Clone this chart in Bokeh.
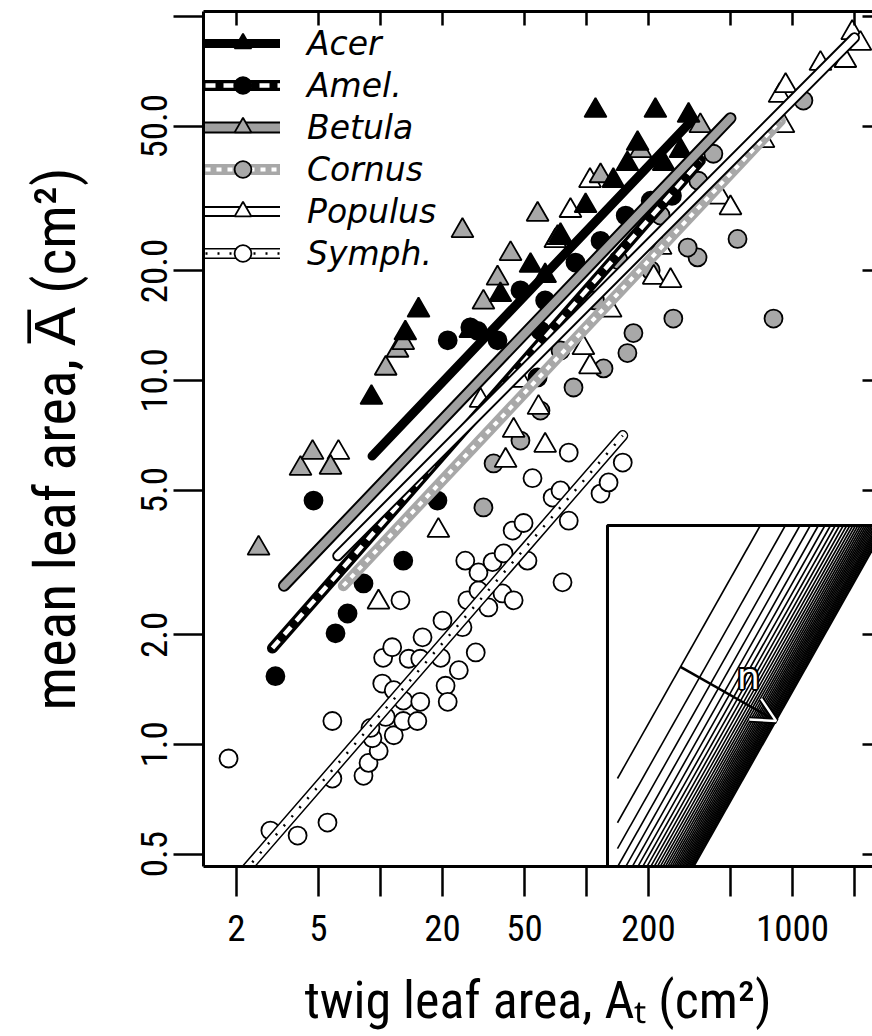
import math
from bokeh.plotting import figure
from bokeh.models import (Range1d, LogScale, LogAxis, FixedTicker, Legend, LegendItem,
                          ColumnDataSource, Arrow, OpenHead, Label)
from bokeh.embed import file_html
from bokeh.resources import INLINE

# ---------------- data ----------------
species = ["Acer", "Amel.", "Betula", "Cornus", "Populus", "Symph."]

acer_x = [9.04, 13.2, 15.3, 110.6, 216, 313, 135, 158, 177, 237, 286, 27.3, 38.2, 53.5, 74.8, 99, 63]
acer_y = [8.98, 13.5, 15.6, 55.2, 55.2, 53.5, 35.4, 39.4, 44.8, 39.4, 42.8, 13.7, 17.2, 20.7, 25.0, 30.2, 19.4]

amel_x = [3.09, 4.73, 6.05, 6.92, 8.27, 12.9, 18.9, 27.3, 21.2, 47.8, 63, 88.4, 117, 155, 205, 260, 59.8, 29.6, 37, 57.9]
amel_y = [1.54, 4.68, 2.02, 2.29, 2.77, 3.20, 4.68, 14.0, 12.9, 17.7, 16.6, 21.1, 24.2, 28.4, 31.2, 32.2, 13.7, 13.7, 12.9, 10.2]

betula_x = [2.56, 4.09, 4.68, 5.72, 10.6, 12.1, 12.9, 25.0, 31.6, 37, 42.8, 57.9, 72.4, 117, 183, 357]
betula_y = [3.46, 5.73, 6.34, 5.77, 10.8, 12.1, 12.7, 25.8, 16.4, 19.1, 22.3, 28.6, 24.7, 36.5, 42.8, 50.1]

cornus_x = [31.6, 35.4, 86.5, 121, 158, 169, 264, 809, 346, 541, 349, 413, 1130, 310, 229, 205, 143, 110, 74.8, 59.8, 47.8]
cornus_y = [4.48, 5.92, 9.57, 10.8, 11.9, 13.5, 14.8, 14.8, 21.8, 24.5, 35.4, 42.0, 58.8, 23.2, 28.4, 20.1, 21.4, 16.6, 12.1, 8.27, 6.84]

populus_x = [6.25, 9.78, 19.1, 58.5, 44.3, 83.6, 104, 70.6, 96.6, 104, 131, 212, 256, 229, 447, 500, 723, 904,
             866, 926, 1367, 1806, 1950, 2137, 63, 40.5, 47.8, 30.6]
populus_y = [6.34, 2.46, 3.87, 8.43, 7.29, 29.3, 35.4, 24.2, 12.3, 10.9, 15.6, 19.2, 18.8, 23.2, 31.9, 29.8, 45.6, 50.1,
             60.7, 64.6, 74.3, 75.7, 90.3, 84.3, 6.63, 6.03, 10.0, 8.81]

symph_x = [1.83, 2.92, 3.96, 5.53, 5.84, 5.84, 8.27, 8.75, 9.8, 9.14, 8.94, 11.6, 10.6, 12.9, 15.1, 10.2, 11.6,
           12.9, 15.6, 10.3, 11.4, 13.7, 15.6, 16.0, 19.6, 20.0, 20.7, 21.2, 24.0, 25.0, 29.0, 12.5, 26.4, 29.9,
           33.4, 39.1, 44.3, 25.8, 29.9, 35.0, 39.6, 43.8, 49.5, 51.7, 68.5, 74.8, 82, 76.5, 54.7, 82, 117, 128, 150]
symph_y = [0.915, 0.58, 0.562, 0.61, 1.16, 0.806, 0.82, 0.89, 0.96, 1.04, 1.11, 1.06, 1.19, 1.16, 1.16, 1.47, 1.41,
           1.32, 1.31, 1.73, 1.85, 1.72, 1.72, 1.97, 1.73, 2.19, 1.45, 1.31, 1.60, 2.10, 1.79, 2.49, 2.49, 2.65,
           2.38, 2.60, 2.49, 3.20, 2.97, 3.17, 3.35, 3.87, 4.06, 3.20, 4.77, 4.99, 4.12, 2.79, 5.39, 6.34, 4.89, 5.25, 5.95]

# fitted lines (end points)
fit_x0 = [9.1, 2.99, 3.4, 6.6, 6.2, 2.0]
fit_y0 = [6.2, 1.84, 2.73, 2.73, 3.3, 0.423]
fit_x1 = [320, 357, 500, 874, 2000, 150]
fit_y1 = [51.4, 40.2, 52.6, 51.8, 87.5, 7.06]

x_label_ticks = [2, 5, 20, 50, 200, 1000]
x_other_ticks = [10, 100, 500, 2000]
y_label_ticks = [0.5, 1, 2, 5, 10, 20, 50]
y_other_ticks = [100]
y_tick_labels = {0.5: "0.5", 1: "1.0", 2: "2.0", 5: "5.0", 10: "10.0", 20: "20.0", 50: "50.0"}

# inset: lines  mean area = twig area / n
inset_n = list(range(1, 34))
inset_box_u = (0.758, 1.0e4)
inset_box_v = (0.2, 52.6)
arrow_start_u = 5.74

# ---------------- styling ----------------
GRAY = "#a8a8a8"
FONT = "Roboto Condensed, Liberation Sans Narrow, Liberation Sans, sans-serif"

p = figure(width=872, height=1036, x_axis_type="log", y_axis_type="log",
           x_range=Range1d(1.383, 2446), y_range=Range1d(0.462, 103.3),
           output_backend="svg", toolbar_location=None,
           min_border_left=203, min_border_right=0, min_border_top=11, min_border_bottom=170)
p.grid.visible = False
p.outline_line_color = None
p.background_fill_color = "white"
p.border_fill_color = "white"

p.extra_x_ranges = {"ix": Range1d(1.03e-5, 1181)}
p.extra_y_ranges = {"iy": Range1d(0.252, 1.65e5)}
p.extra_x_scales = {"ix": LogScale()}
p.extra_y_scales = {"iy": LogScale()}

bottom = p.below[0]
left = p.left[0]

for ax in (bottom, left):
    ax.axis_line_width = 3
    ax.major_tick_line_width = 2.5
    ax.minor_tick_line_width = 2.5
    ax.major_tick_out = 30
    ax.major_tick_in = 0
    ax.minor_tick_out = 30
    ax.minor_tick_in = 0
    ax.minor_tick_line_color = "black"
    ax.major_label_text_font = FONT
    ax.major_label_text_font_size = "37px"
    ax.major_label_text_color = "black"
    ax.axis_label_text_font = FONT
    ax.axis_label_text_font_style = "normal"
    ax.axis_label_text_color = "black"

bottom.ticker = FixedTicker(ticks=x_label_ticks, minor_ticks=x_other_ticks)
bottom.major_label_standoff = 18
bottom.axis_label = "twig leaf area, A\u209c (cm\u00b2)"
bottom.axis_label_text_font_size = "52px"
bottom.axis_label_standoff = 26

left.ticker = FixedTicker(ticks=y_label_ticks, minor_ticks=y_other_ticks)
left.major_label_overrides = y_tick_labels
left.major_label_orientation = "vertical"
left.major_label_standoff = 6
left.axis_label = "mean leaf area, A\u0305 (cm\u00b2)"
left.axis_label_text_font_size = "58px"
left.axis_label_standoff = 50

top = LogAxis(ticker=FixedTicker(ticks=x_label_ticks + x_other_ticks), major_tick_in=14, major_tick_out=0,
              major_tick_line_width=2.5, axis_line_width=3, minor_tick_line_color=None,
              major_label_text_color=None, major_label_text_font_size="1px", major_label_standoff=0)
p.add_layout(top, "above")
right = LogAxis(ticker=FixedTicker(ticks=y_label_ticks + y_other_ticks), major_tick_in=10, major_tick_out=0,
                major_tick_line_width=2.5, axis_line_color=None, minor_tick_line_color=None,
                major_label_text_color=None, major_label_text_font_size="1px", major_label_standoff=0)
p.add_layout(right, "right")

# ---------------- points ----------------
pts = {
    "Acer": (acer_x, acer_y, "triangle", "black", 22),
    "Amel.": (amel_x, amel_y, "circle", "black", 18),
    "Betula": (betula_x, betula_y, "triangle", GRAY, 22),
    "Cornus": (cornus_x, cornus_y, "circle", GRAY, 18),
    "Populus": (populus_x, populus_y, "triangle", "white", 22),
    "Symph.": (symph_x, symph_y, "circle", "white", 18),
}
scatter_r = {}
for name in ["Symph.", "Cornus", "Populus", "Betula", "Amel.", "Acer"]:
    xs, ys, mk, fc, sz = pts[name]
    src = ColumnDataSource(dict(x=xs, y=ys))
    scatter_r[name] = p.scatter("x", "y", source=src, marker=mk, size=sz, fill_color=fc,
                                line_color="black", line_width=1.8)

# ---------------- fitted lines (cased) ----------------
line_styles = {
    "Acer": [("black", 9, None)],
    "Amel.": [("black", 11, None), ("white", 4.5, "10 8")],
    "Betula": [("black", 12, None), ("#a0a0a0", 8, None)],
    "Cornus": [(GRAY, 11, None), ("white", 4, "5 6")],
    "Populus": [("black", 11, None), ("white", 7, None)],
    "Symph.": [("black", 11, None), ("white", 8, None), ("black", 2.5, "2 10")],
}
line_r = {n: [] for n in species}
for i, name in enumerate(species):
    src = ColumnDataSource(dict(x=[fit_x0[i], fit_x1[i]], y=[fit_y0[i], fit_y1[i]]))
    for col, w, dash in line_styles[name]:
        kw = dict(line_dash=dash, line_cap="butt") if dash else dict(line_cap="round")
        r = p.line("x", "y", source=src, line_color=col, line_width=w, **kw)
        line_r[name].append(r)

# ---------------- legend ----------------
items = [LegendItem(label=n, renderers=line_r[n] + [scatter_r[n]]) for n in species]
legend = Legend(items=items, location=(2, 592), padding=0, margin=0, spacing=0,
                glyph_width=75, glyph_height=42, label_height=42, label_standoff=27,
                border_line_alpha=0, background_fill_alpha=0,
                label_text_font="DejaVu Sans", label_text_font_style="italic",
                label_text_font_size="33px", label_text_color="black")
p.add_layout(legend)

# ---------------- inset ----------------
p.quad(left=[inset_box_u[0]], right=[inset_box_u[1]], bottom=[inset_box_v[0]], top=[inset_box_v[1]],
       x_range_name="ix", y_range_name="iy", fill_color="white", line_color="black", line_width=3)
vtop = inset_box_v[1]
ixs = [[1.0, vtop * n] for n in inset_n]
iys = [[1.0 / n, vtop] for n in inset_n]
p.multi_line(ixs, iys, x_range_name="ix", y_range_name="iy", line_color="black", line_width=1.6)

# arrow perpendicular to the lines from n=1 to n=N (inset has 83 px / decade in x, 147 px / decade in y)
N = inset_n[-1]
t = math.log10(N) / (83 / 147 + 147 / 83)
xe = arrow_start_u * 10 ** (147 * t / 83)
ye = arrow_start_u * 10 ** (-83 * t / 147)
p.add_layout(Arrow(x_start=arrow_start_u, y_start=arrow_start_u, x_end=xe, y_end=ye,
                   x_range_name="ix", y_range_name="iy", line_color="black", line_width=2.5,
                   end=OpenHead(size=24, line_width=6, line_color="black")))
p.add_layout(Arrow(x_start=arrow_start_u, y_start=arrow_start_u, x_end=xe, y_end=ye,
                   x_range_name="ix", y_range_name="iy", line_alpha=0,
                   end=OpenHead(size=24, line_width=2.5, line_color="white")))
lx, ly = 37.9, 3.6
for dx, dy in [(-2, 0), (2, 0), (0, -2), (0, 2), (-1.5, -1.5), (1.5, 1.5), (-1.5, 1.5), (1.5, -1.5)]:
    p.add_layout(Label(x=lx, y=ly, x_range_name="ix", y_range_name="iy", text="n", x_offset=dx, y_offset=dy,
                       text_font="DejaVu Sans", text_font_size="36px", text_color="black",
                       text_align="center", text_baseline="bottom"))
p.add_layout(Label(x=lx, y=ly, x_range_name="ix", y_range_name="iy", text="n",
                   text_font="DejaVu Sans", text_font_size="36px", text_color="white",
                   text_align="center", text_baseline="bottom"))

open("out.html", "w").write(file_html(p, INLINE))
